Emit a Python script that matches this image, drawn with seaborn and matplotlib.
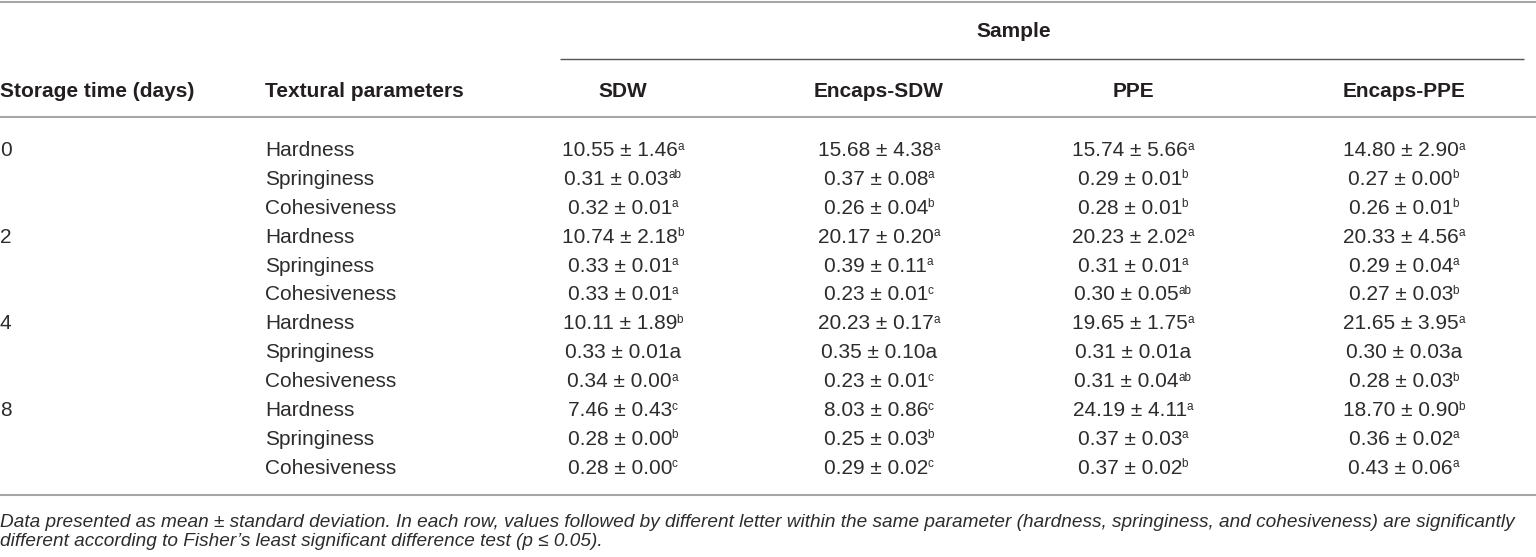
import matplotlib
matplotlib.use('Agg')
import matplotlib.pyplot as plt
import seaborn as sns

# values of the table
days = ['0', '2', '4', '8']
params = ['Hardness', 'Springiness', 'Cohesiveness']
samples = ['SDW', 'Encaps-SDW', 'PPE', 'Encaps-PPE']

sdw_mean = [10.55, 0.31, 0.32, 10.74, 0.33, 0.33, 10.11, 0.33, 0.34, 7.46, 0.28, 0.28]
sdw_sd = [1.46, 0.03, 0.01, 2.18, 0.01, 0.01, 1.89, 0.01, 0.00, 0.43, 0.00, 0.00]
sdw_let = ['a', 'ab', 'a', 'b', 'a', 'a', 'b', 'a', 'a', 'c', 'b', 'c']

esdw_mean = [15.68, 0.37, 0.26, 20.17, 0.39, 0.23, 20.23, 0.35, 0.23, 8.03, 0.25, 0.29]
esdw_sd = [4.38, 0.08, 0.04, 0.20, 0.11, 0.01, 0.17, 0.10, 0.01, 0.86, 0.03, 0.02]
esdw_let = ['a', 'a', 'b', 'a', 'a', 'c', 'a', 'a', 'c', 'c', 'b', 'c']

ppe_mean = [15.74, 0.29, 0.28, 20.23, 0.31, 0.30, 19.65, 0.31, 0.31, 24.19, 0.37, 0.37]
ppe_sd = [5.66, 0.01, 0.01, 2.02, 0.01, 0.05, 1.75, 0.01, 0.04, 4.11, 0.03, 0.02]
ppe_let = ['a', 'b', 'b', 'a', 'a', 'ab', 'a', 'a', 'ab', 'a', 'a', 'b']

eppe_mean = [14.80, 0.27, 0.26, 20.33, 0.29, 0.27, 21.65, 0.30, 0.28, 18.70, 0.36, 0.43]
eppe_sd = [2.90, 0.00, 0.01, 4.56, 0.04, 0.03, 3.95, 0.03, 0.03, 0.90, 0.02, 0.06]
eppe_let = ['a', 'b', 'b', 'a', 'a', 'b', 'a', 'a', 'b', 'b', 'a', 'a']

# in the source the day-4 springiness letters are not superscripted
sup_row = [True] * 12
sup_row[7] = False

footnote = [
    'Data presented as mean ± standard deviation. In each row, values followed by different letter '
    'within the same parameter (hardness, springiness, and cohesiveness) are significantly',
    'different according to Fisher’s least significant difference test (p ≤ 0.05).',
]

sns.set_theme(style='white')
plt.rcParams['font.family'] = ['Liberation Sans', 'DejaVu Sans']

W, H = 1536, 557
fig = plt.figure(figsize=(W / 100, H / 100), dpi=100)
ax = fig.add_axes([0, 0, 1, 1])
ax.set_xlim(0, W)
ax.set_ylim(H, 0)
ax.axis('off')
renderer = fig.canvas.get_renderer()

head_col = '#231f20'
txt = '#2e2b2c'
fs = 15
sup_fs = 8.5

# rules
rule = dict(color='#a6a6a6', lw=1.5, solid_capstyle='butt')
ax.plot([0, W], [2, 2], **rule)
ax.plot([560, 1524], [59, 59], color='#555555', lw=1.0, solid_capstyle='butt')
ax.plot([0, W], [117, 117], **rule)
ax.plot([0, W], [495, 495], **rule)

# header
col_x = [623, 879, 1133, 1404]
ax.text(1014, 37, 'Sample', ha='center', va='baseline', fontsize=fs,
        fontweight='bold', color=head_col)
ax.text(0, 97, 'Storage time (days)', ha='left', va='baseline', fontsize=fs,
        fontweight='bold', color=head_col)
ax.text(265, 97, 'Textural parameters', ha='left', va='baseline', fontsize=fs,
        fontweight='bold', color=head_col)
for x, s in zip(col_x, samples):
    ax.text(x, 97, s, ha='center', va='baseline', fontsize=fs, fontweight='bold', color=head_col)

# body
columns = [
    (sdw_mean, sdw_sd, sdw_let),
    (esdw_mean, esdw_sd, esdw_let),
    (ppe_mean, ppe_sd, ppe_let),
    (eppe_mean, eppe_sd, eppe_let),
]
y0, dy = 156, 28.9
for i in range(12):
    y = y0 + dy * i
    if i % 3 == 0:
        ax.text(0, y, days[i // 3], ha='left', va='baseline', fontsize=fs, color=txt)
    ax.text(265, y, params[i % 3], ha='left', va='baseline', fontsize=fs, color=txt)
    for x, (m, s, l) in zip(col_x, columns):
        if sup_row[i]:
            main = ax.text(0, y, f'{m[i]:.2f} ± {s[i]:.2f}', ha='left', va='baseline',
                           fontsize=fs, color=txt)
            sup = ax.text(0, y - 6.5, l[i], ha='left', va='baseline', fontsize=sup_fs, color=txt)
            w1 = main.get_window_extent(renderer).width
            w2 = sup.get_window_extent(renderer).width
            left = x - (w1 + w2) / 2
            main.set_x(left)
            sup.set_x(left + w1 - 0.5)
        else:
            ax.text(x, y, f'{m[i]:.2f} ± {s[i]:.2f}{l[i]}', ha='center', va='baseline',
                    fontsize=fs, color=txt)

# footnote
for k, line in enumerate(footnote):
    ax.text(0, 527 + 19.5 * k, line, ha='left', va='baseline', fontsize=13.7,
            style='italic', color=txt)

fig.savefig('out.png', dpi=100)
